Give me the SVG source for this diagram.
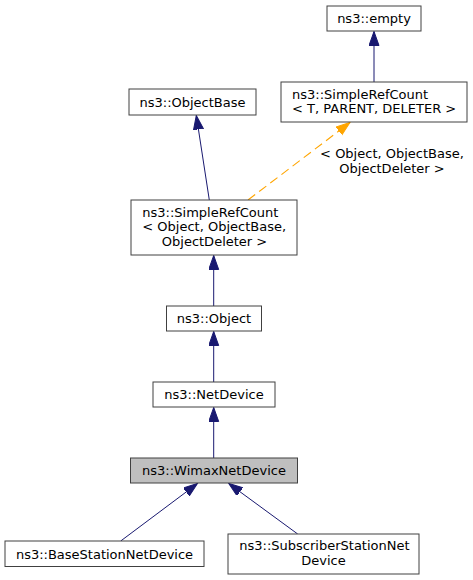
<svg xmlns="http://www.w3.org/2000/svg" width="473" height="580" viewBox="0 0 473 580">
<style>
.box{fill:#ffffff;stroke:#404040;stroke-width:1}
.sel{fill:#bfbfbf;stroke:#404040;stroke-width:1}
text{font-family:"DejaVu Sans",sans-serif;font-size:13px;fill:#000000}
.m{text-anchor:middle}
.s{text-anchor:start}
.e{fill:none;stroke:#191970;stroke-width:1}
.d{fill:none;stroke:#ffa500;stroke-width:1.1;stroke-dasharray:9,5}
</style>
<defs>
<marker id="ab" markerUnits="userSpaceOnUse" markerWidth="15" markerHeight="11" refX="14" refY="5" orient="auto" viewBox="0 0 15 11">
<path d="M0,0 L14,5 L0,10 z" fill="#191970" stroke="#191970"/>
</marker>
<marker id="ao" markerUnits="userSpaceOnUse" markerWidth="15" markerHeight="11" refX="14" refY="5" orient="auto" viewBox="0 0 15 11">
<path d="M0,0 L14,5 L0,10 z" fill="#ffa500" stroke="#ffa500"/>
</marker>
</defs>
<g id="edges">
<line class="e" x1="374" y1="82" x2="374" y2="31.5" marker-end="url(#ab)"/>
<line class="e" x1="209.3" y1="200" x2="196.3" y2="115.5" marker-end="url(#ab)"/>
<line class="d" x1="248" y1="200" x2="350" y2="122.5" marker-end="url(#ao)"/>
<text class="m" x="392" y="158">&lt; Object, ObjectBase,</text>
<text class="m" x="392" y="172.5">ObjectDeleter &gt;</text>
<line class="e" x1="213.7" y1="306" x2="213.7" y2="255.5" marker-end="url(#ab)"/>
<line class="e" x1="213.7" y1="382" x2="213.7" y2="331.5" marker-end="url(#ab)"/>
<line class="e" x1="213.7" y1="458" x2="213.7" y2="407.5" marker-end="url(#ab)"/>
<line class="e" x1="120.7" y1="541" x2="197.5" y2="483.5" marker-end="url(#ab)"/>
<line class="e" x1="297.7" y1="534" x2="228.7" y2="483.5" marker-end="url(#ab)"/>
</g>
<g id="empty">
<rect class="box" x="327" y="6" width="94" height="25"/>
<text class="m" x="374" y="23">ns3::empty</text>
</g>
<g id="simplerefcount_t">
<rect class="box" x="281" y="82" width="186" height="40"/>
<text class="s" x="292" y="98.5">ns3::SimpleRefCount</text>
<text class="s" x="292" y="113">&lt; T, PARENT, DELETER &gt;</text>
</g>
<g id="objectbase">
<rect class="box" x="129" y="89" width="127" height="26"/>
<text class="m" x="192.5" y="106.5">ns3::ObjectBase</text>
</g>
<g id="simplerefcount_object">
<rect class="box" x="131" y="200" width="166" height="55"/>
<text class="s" x="142.3" y="217">ns3::SimpleRefCount</text>
<text class="s" x="142.3" y="231.3">&lt; Object, ObjectBase,</text>
<text class="m" x="214.5" y="245.6">ObjectDeleter &gt;</text>
</g>
<g id="object">
<rect class="box" x="166.5" y="306" width="95" height="25"/>
<text class="m" x="214" y="323">ns3::Object</text>
</g>
<g id="netdevice">
<rect class="box" x="153" y="382" width="122" height="25"/>
<text class="m" x="214" y="399">ns3::NetDevice</text>
</g>
<g id="wimaxnetdevice">
<rect class="sel" x="130.5" y="458" width="167" height="25"/>
<text class="m" x="214" y="475">ns3::WimaxNetDevice</text>
</g>
<g id="basestationnetdevice">
<rect class="box" x="5" y="541" width="199" height="25.5"/>
<text class="m" x="104.5" y="558.5">ns3::BaseStationNetDevice</text>
</g>
<g id="subscriberstationnetdevice">
<rect class="box" x="228" y="534" width="191" height="40"/>
<text class="s" x="239.3" y="550">ns3::SubscriberStationNet</text>
<text class="m" x="323.5" y="564.6">Device</text>
</g>
</svg>
